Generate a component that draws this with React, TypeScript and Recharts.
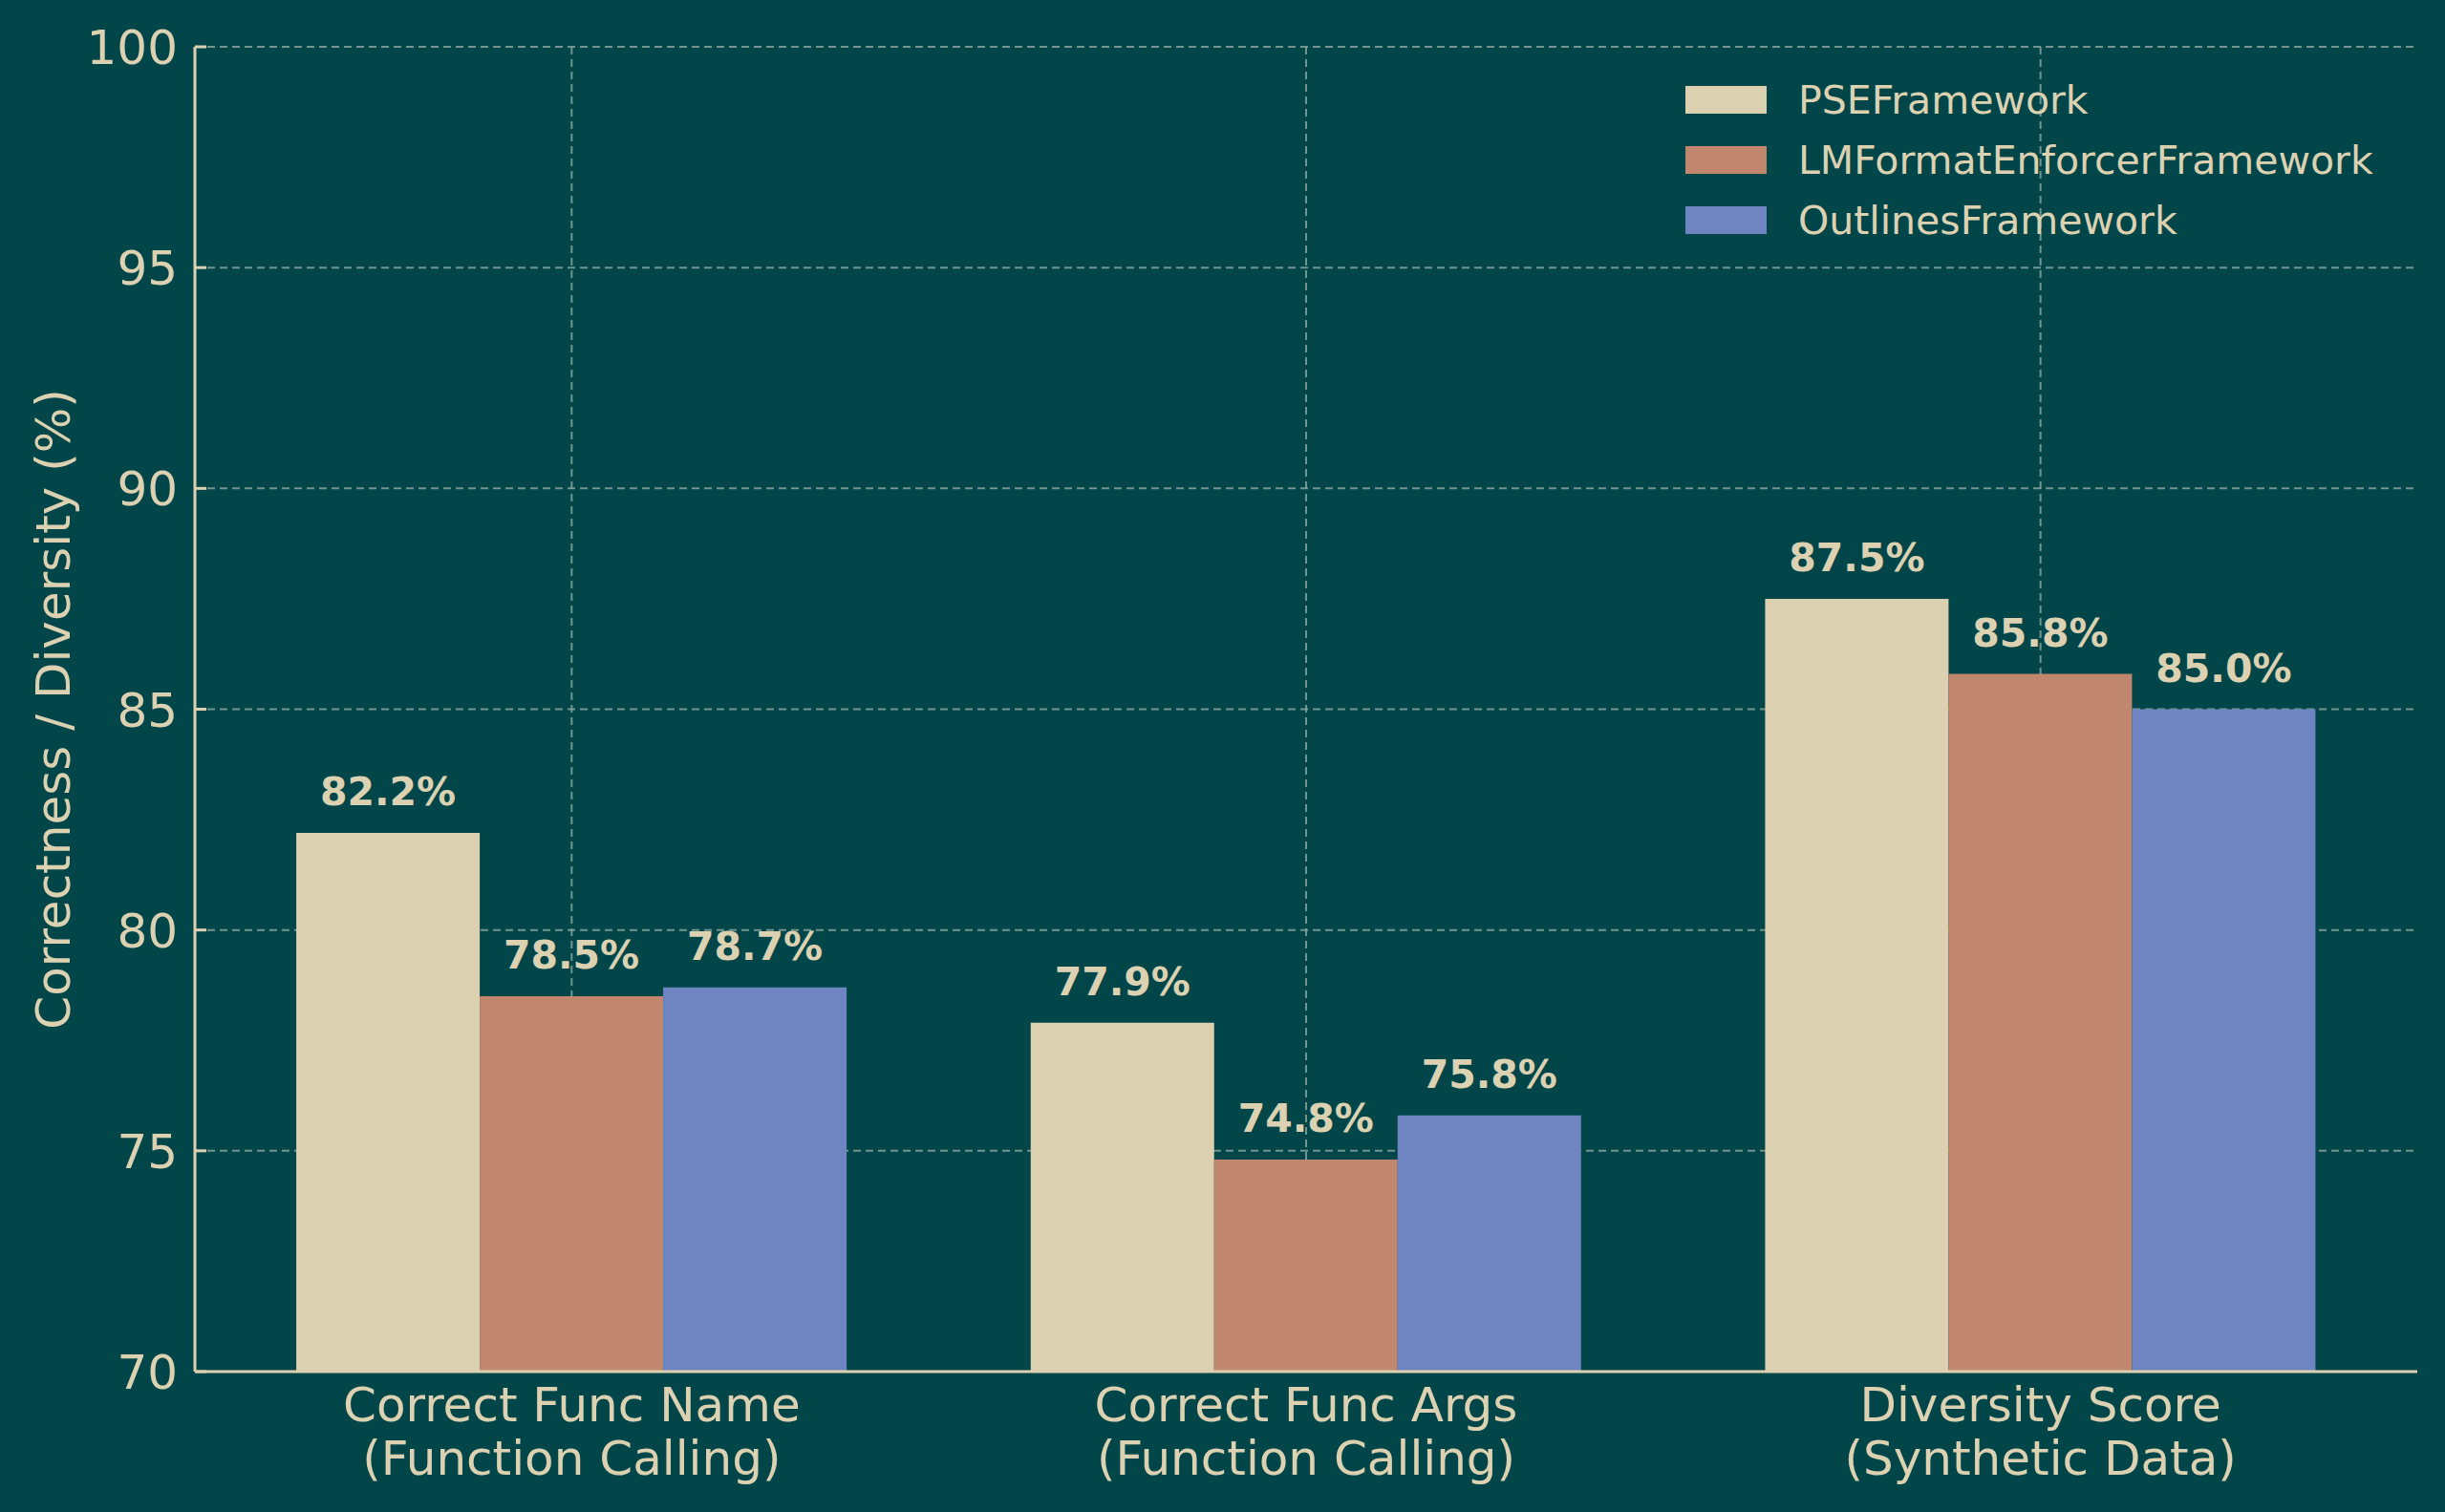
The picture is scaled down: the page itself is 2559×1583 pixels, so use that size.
import { BarChart, Bar, XAxis, YAxis, CartesianGrid, LabelList } from 'recharts'

const categoryNames = ['Correct Func Name', 'Correct Func Args', 'Diversity Score']
const categoryGroups = ['(Function Calling)', '(Function Calling)', '(Synthetic Data)']
const pseValues = [82.2, 77.9, 87.5]
const lmfeValues = [78.5, 74.8, 85.8]
const outlinesValues = [78.7, 75.8, 85.0]
const yTicks = [70, 75, 80, 85, 90, 95, 100]

const BG = '#03464a'
const CREAM = '#dcd2b2'
const GRID = '#86a39a'
const X_PAD = 10

const series = [
  { key: 'pse', name: 'PSEFramework', color: '#dbd0b0' },
  { key: 'lmfe', name: 'LMFormatEnforcerFramework', color: '#c1866e' },
  { key: 'outlines', name: 'OutlinesFramework', color: '#6e85c2' },
]

const data = categoryNames.map((name, i) => ({
  category: `${name}\n${categoryGroups[i]}`,
  pse: pseValues[i],
  lmfe: lmfeValues[i],
  outlines: outlinesValues[i],
}))

const FONT = '"DejaVu Sans", sans-serif'

function YTick({ x, y, payload }: any) {
  return (
    <g>
      <line x1={x} x2={x + 12} y1={y} y2={y} stroke={CREAM} strokeWidth={3} />
      <text x={x - 18} y={y} dy="0.36em" textAnchor="end" fill={CREAM} fontSize={50} fontFamily={FONT}>
        {payload.value}
      </text>
    </g>
  )
}

function XTick({ x, y, payload }: any) {
  const lines = String(payload.value).split('\n')
  return (
    <text x={x} y={y} textAnchor="middle" fill={CREAM} fontSize={50} fontFamily={FONT}>
      {lines.map((line, i) => (
        <tspan key={i} x={x} y={y + 44 + i * 56}>{line}</tspan>
      ))}
    </text>
  )
}

function ValueLabel({ x, y, width, value }: any) {
  return (
    <text x={x + width / 2} y={y - 29} textAnchor="middle" fill={CREAM} fontSize={41} fontWeight="bold" fontFamily={FONT}>
      {`${Number(value).toFixed(1)}%`}
    </text>
  )
}

function YLabel({ viewBox }: any) {
  const cy = viewBox.y + viewBox.height / 2
  return (
    <text x={73} y={cy} transform={`rotate(-90, 73, ${cy})`} textAnchor="middle" fill={CREAM} fontSize={50} fontFamily={FONT}>
      Correctness / Diversity (%)
    </text>
  )
}

// vertical grid only at category centres (no line on the right edge)
const categoryCentres = ({ offset }: any) => {
  const band = (offset.width - 2 * X_PAD) / categoryNames.length
  return categoryNames.map((_, i) => offset.left + X_PAD + band * (i + 0.5))
}

export default function App() {
  return (
    <div style={{ position: 'absolute', left: 0, top: 0, width: 2559, height: 1583, background: BG }}>
      <BarChart
        width={2559}
        height={1583}
        data={data}
        margin={{ top: 49, right: 29, bottom: 0, left: 0 }}
        barCategoryGap="12.5%"
        barGap={0}
      >
        <CartesianGrid
          stroke={GRID}
          strokeOpacity={0.85}
          strokeWidth={2}
          strokeDasharray="8 5"
          verticalCoordinatesGenerator={categoryCentres}
        />
        <XAxis
          dataKey="category"
          height={147}
          padding={{ left: X_PAD, right: X_PAD }}
          tick={<XTick />}
          tickLine={false}
          interval={0}
          axisLine={{ stroke: CREAM, strokeWidth: 3 }}
        />
        <YAxis
          width={204}
          domain={[70, 100]}
          ticks={yTicks}
          allowDataOverflow
          tick={<YTick />}
          tickLine={false}
          tickSize={0}
          tickMargin={0}
          axisLine={{ stroke: CREAM, strokeWidth: 3 }}
          label={{ content: <YLabel /> }}
        />
        {series.map(s => (
          <Bar key={s.key} dataKey={s.key} name={s.name} fill={s.color} isAnimationActive={false}>
            <LabelList dataKey={s.key} content={<ValueLabel />} />
          </Bar>
        ))}
      </BarChart>
      <div style={{ position: 'absolute', top: 73, left: 1764, fontFamily: FONT, fontSize: 41, color: CREAM }}>
        {series.map(s => (
          <div key={s.key} style={{ display: 'flex', alignItems: 'center', height: 63 }}>
            <div style={{ width: 85, height: 29, background: s.color, marginRight: 33 }} />
            <span>{s.name}</span>
          </div>
        ))}
      </div>
    </div>
  )
}
